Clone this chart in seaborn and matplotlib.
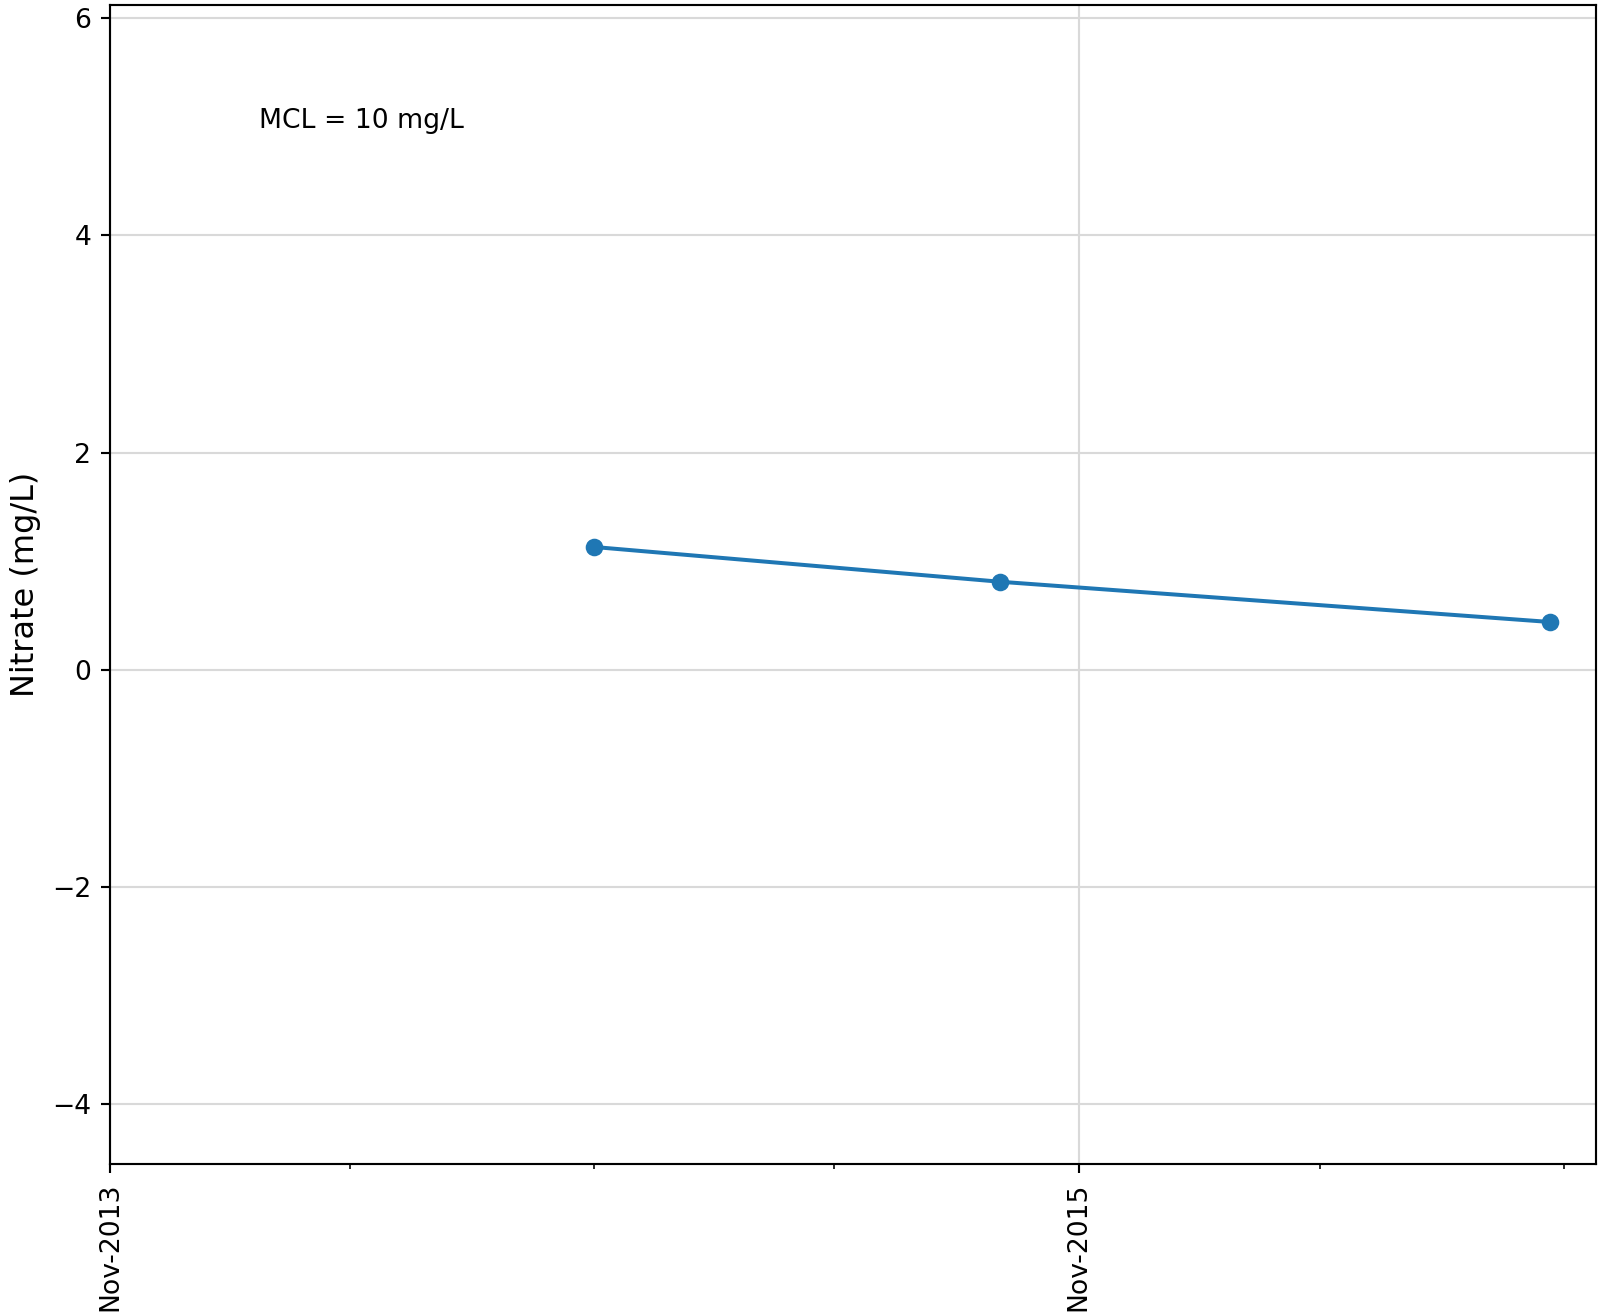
#!/usr/bin/env python3
"""Nitrate time series for a single well, with the MCL note."""

import matplotlib

matplotlib.use("Agg")
import matplotlib.dates as mdates
import matplotlib.pyplot as plt
import matplotlib.ticker as mticker
import pandas as pd
import seaborn as sns

# sample dates and nitrate results (mg/L)
sample_dates = ["2014-11-01", "2015-09-03", "2016-10-21"]
nitrate_mg_l = [1.13, 0.81, 0.44]

# axis extents and labelled ticks
x_range = ["2013-11-01", "2016-11-25"]
y_range = [-4.55, 6.12]
major_dates = ["2013-11-01", "2015-11-01"]
y_ticks = [-4, -2, 0, 2, 4, 6]
mcl_note = "MCL = 10 mg/L"

DPI = 192


def main() -> None:
    df = pd.DataFrame({"date": pd.to_datetime(sample_dates), "nitrate": nitrate_mg_l})

    fig = plt.figure(figsize=(1598 / DPI, 1313 / DPI), dpi=DPI)
    ax = fig.add_axes([0.0688, 0.1135, 0.93, 0.8827])

    sns.lineplot(
        data=df,
        x="date",
        y="nitrate",
        marker="o",
        markersize=6.6,
        markeredgewidth=0,
        color="#1f77b4",
        linewidth=1.5,
        ax=ax,
    )

    ax.set_xlim(pd.to_datetime(x_range[0]), pd.to_datetime(x_range[1]))
    ax.set_ylim(*y_range)
    ax.set_yticks(y_ticks)

    ax.xaxis.set_major_locator(
        mticker.FixedLocator(mdates.date2num(pd.to_datetime(major_dates)))
    )
    ax.xaxis.set_minor_locator(mdates.MonthLocator(bymonth=[5, 11]))
    ax.xaxis.set_major_formatter(mdates.DateFormatter("%b-%Y"))
    ax.tick_params(axis="x", which="major", labelrotation=90, labelsize=10)
    ax.tick_params(axis="y", labelsize=10)

    ax.grid(True, which="major", color="#d9d9d9", linewidth=0.8)
    ax.set_axisbelow(True)

    ax.set_xlabel("")
    ax.set_ylabel("Nitrate (mg/L)", fontsize=12)

    ax.text(0.1, 0.9, mcl_note, transform=ax.transAxes, ha="left", va="center", fontsize=10)

    fig.savefig("out.png", dpi=DPI)
    plt.close(fig)


if __name__ == "__main__":
    main()
